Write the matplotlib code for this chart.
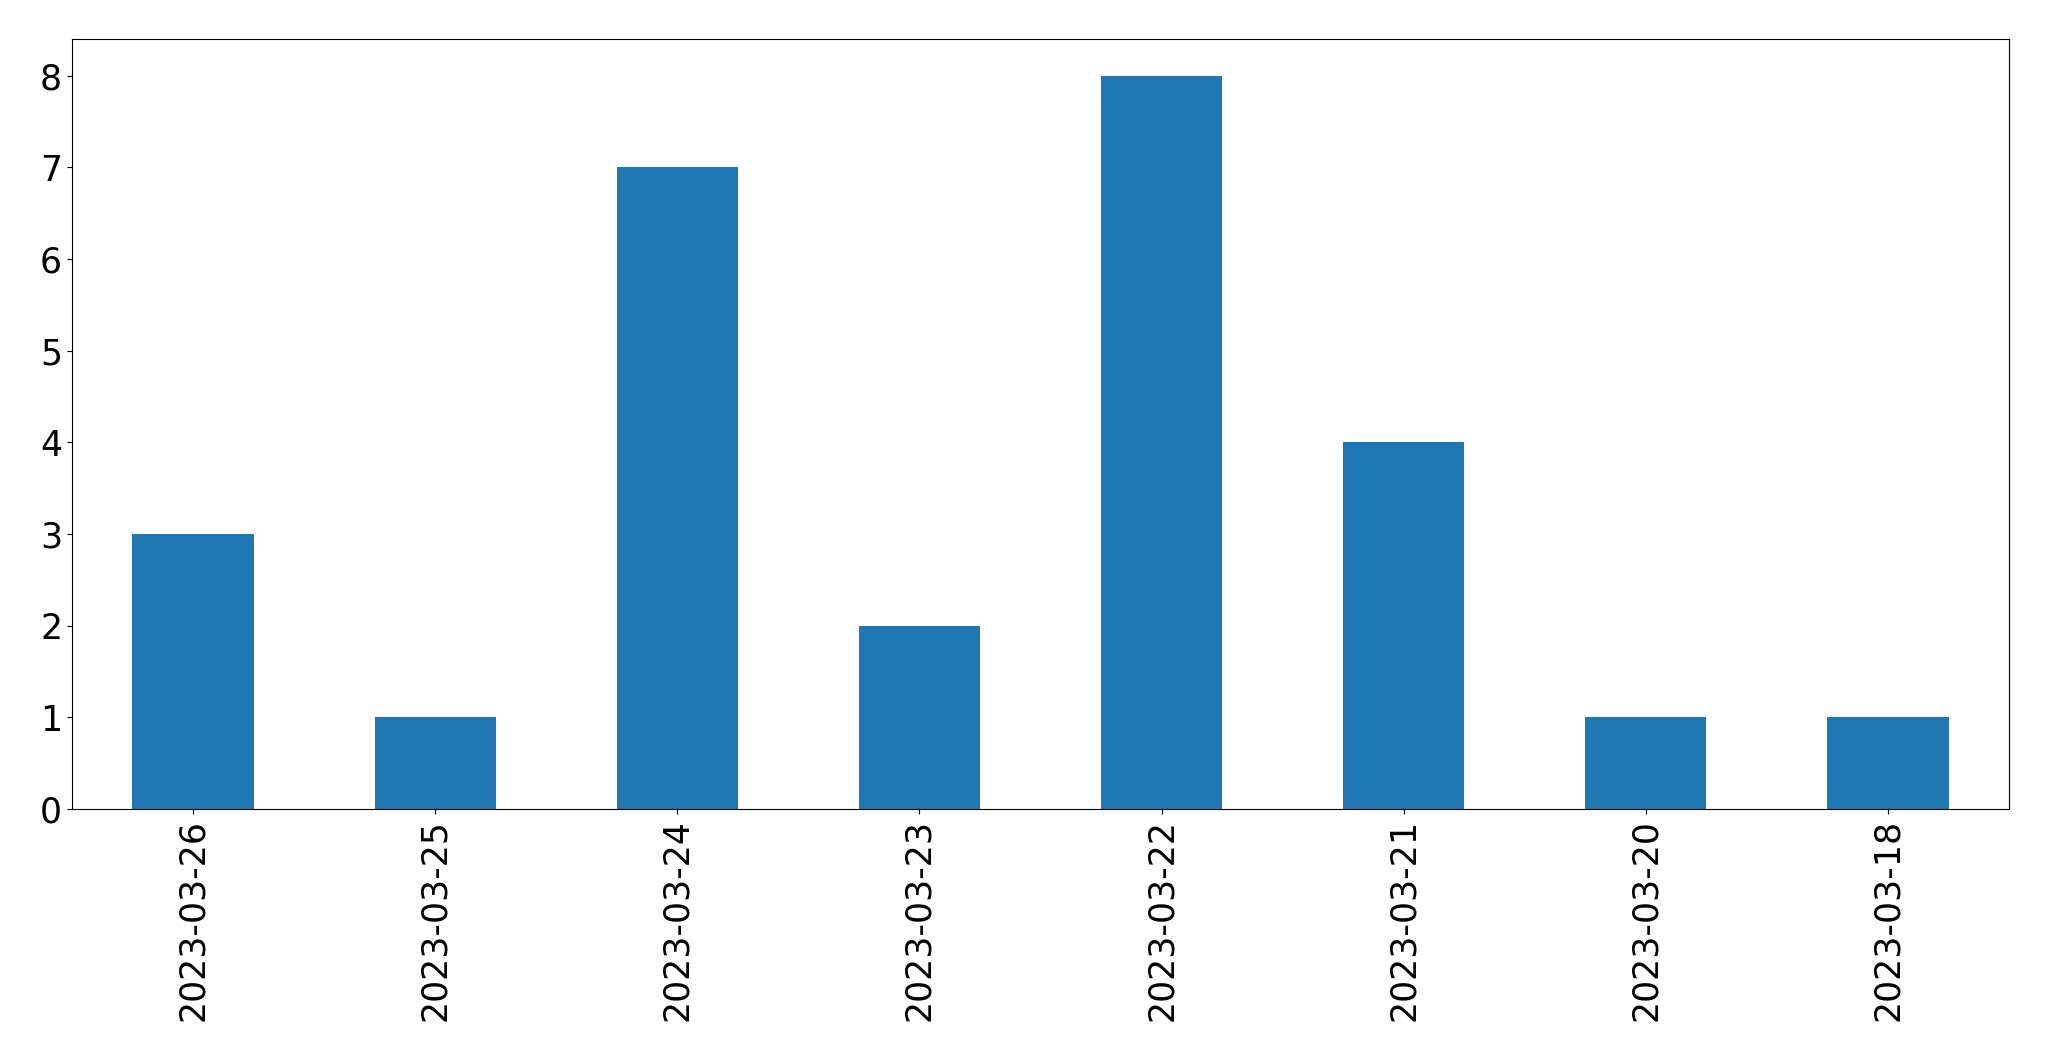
import matplotlib
matplotlib.use("Agg")
import pandas as pd
from matplotlib import pyplot as plt

dates = ['2023-03-26', '2023-03-25', '2023-03-24', '2023-03-23',
         '2023-03-22', '2023-03-21', '2023-03-20', '2023-03-18']
counts = [3, 1, 7, 2, 8, 4, 1, 1]

s = pd.Series(counts, index=dates)

fig, ax = plt.subplots(figsize=(20.49, 10.61), dpi=100)
s.plot(kind='bar', ax=ax, color='#1f77b4', fontsize=25)
fig.subplots_adjust(left=0.0351, right=0.9805, top=0.9632, bottom=0.2375)

fig.savefig('out.png', dpi=100)
